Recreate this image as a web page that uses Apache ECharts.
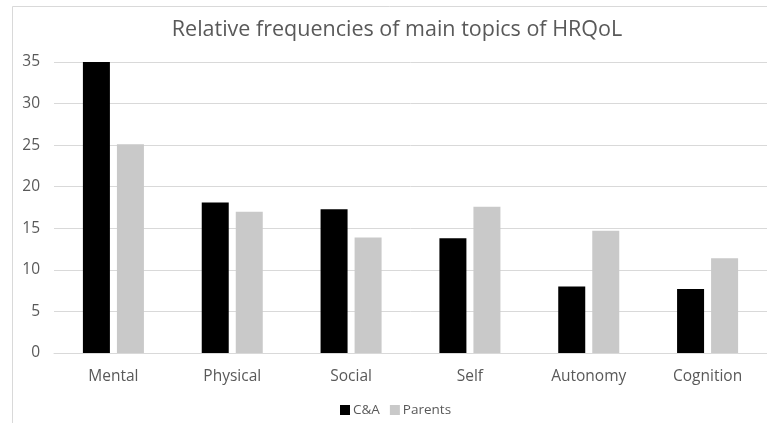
<!DOCTYPE html>
<html><head><meta charset="utf-8">
<script src="https://cdn.jsdelivr.net/npm/echarts@6/dist/echarts.min.js"></script>
<style>html,body{margin:0;padding:0;background:#fff}#c{width:767px;height:423px}</style>
</head><body><div id="c"></div>
<script>
var categories = ['Mental', 'Physical', 'Social', 'Self', 'Autonomy', 'Cognition'];
var caValues = [35.0, 18.1, 17.3, 13.8, 8.0, 7.7];
var parentValues = [25.1, 17.0, 13.9, 17.6, 14.7, 11.4];
var seriesNames = ['C&A', 'Parents'];
var yTicks = [0, 5, 10, 15, 20, 25, 30, 35];
var titleText = 'Relative frequencies of main topics of HRQoL';

var font = 'Open Sans';
var chart = echarts.init(document.getElementById('c'), null, {renderer: 'canvas'});
chart.setOption({
  animation: false,
  backgroundColor: '#fff',
  graphic: [
    {type: 'polyline', shape: {points: [[12.5, 423], [12.5, 6.5], [767, 6.5]]}, style: {stroke: '#d9d9d9', lineWidth: 1, fill: null}, silent: true}
  ],
  title: {
    text: titleText, left: 392, textAlign: 'center', top: 14,
    textStyle: {fontFamily: font, fontSize: 21.5, fontWeight: 'normal', color: '#595959'}
  },
  legend: {
    data: seriesNames, left: 335, top: 398,
    itemWidth: 10, itemHeight: 10, itemGap: 10, icon: 'rect',
    textStyle: {fontFamily: font, fontSize: 13.5, color: '#595959', padding: [0, 0, 0, -2]}
  },
  grid: {left: 54, right: -1, top: 62, bottom: 70, containLabel: false},
  xAxis: {
    type: 'category', data: categories,
    axisLine: {lineStyle: {color: '#d9d9d9'}},
    axisTick: {show: false},
    axisLabel: {fontFamily: font, fontSize: 15.5, color: '#595959', margin: 16}
  },
  yAxis: {
    type: 'value', min: 0, max: 35, interval: 5,
    axisLine: {show: false}, axisTick: {show: false},
    splitLine: {lineStyle: {color: '#d9d9d9', width: 1}},
    axisLabel: {fontFamily: font, fontSize: 15.5, color: '#595959', margin: 14,
      formatter: function (v) { return yTicks.indexOf(v) >= 0 ? String(v) : ''; }}
  },
  series: [
    {name: seriesNames[0], type: 'bar', data: caValues, barWidth: 27, barGap: '26%',
      itemStyle: {color: '#000000'}},
    {name: seriesNames[1], type: 'bar', data: parentValues, barWidth: 27,
      itemStyle: {color: '#c9c9c9'}}
  ]
});
</script></body></html>
